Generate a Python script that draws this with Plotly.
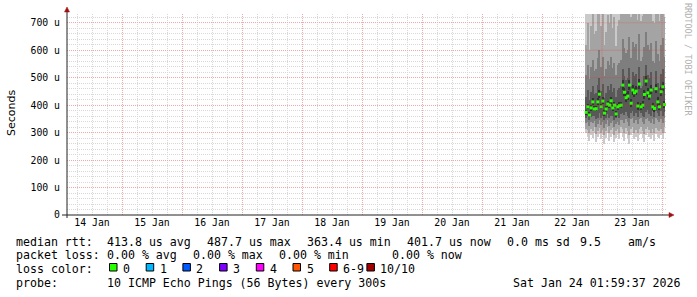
import plotly.graph_objects as go
import pandas as pd

# ---------------- data ----------------
times = pd.date_range("2026-01-22 17:40", periods=48, freq="40min")

median_us = [374, 394, 364, 390, 412, 386, 387, 412, 440, 394, 415, 371, 386, 404, 400, 416,
             390, 400, 368, 394, 398, 400, 473, 447, 427, 433, 473, 407, 455, 445, 451, 397,
             477, 394, 400, 439, 488, 445, 433, 455, 394, 388, 460, 412, 394, 449, 467, 402]

# sorted pings (smoke) per step, in microseconds
ping1 = [300, 285, 270, 290, 280, 300, 265, 285, 295, 275, 290, 260, 280, 300, 270, 285,
         295, 265, 280, 290, 275, 300, 285, 270, 295, 280, 260, 290, 300, 275, 285, 270,
         290, 295, 280, 265, 290, 300, 285, 275, 290, 270, 295, 285, 280, 290, 275, 300]
ping2 = [315, 310, 300, 312, 305, 320, 295, 305, 318, 300, 310, 290, 305, 322, 298, 308,
         318, 292, 305, 315, 300, 320, 312, 300, 318, 305, 290, 315, 322, 300, 310, 298,
         315, 320, 305, 295, 312, 322, 308, 300, 315, 298, 318, 310, 305, 315, 300, 322]
ping3 = [335, 338, 325, 340, 335, 342, 322, 330, 345, 328, 338, 318, 330, 345, 325, 335,
         342, 320, 332, 340, 328, 345, 345, 335, 350, 338, 325, 348, 352, 335, 345, 330,
         350, 352, 338, 330, 348, 355, 342, 335, 350, 332, 352, 345, 338, 350, 335, 352]
ping4 = [352, 360, 345, 358, 360, 360, 350, 355, 370, 355, 362, 345, 355, 368, 352, 360,
         362, 345, 355, 362, 352, 368, 372, 365, 375, 362, 352, 372, 378, 362, 372, 358,
         378, 372, 362, 358, 375, 382, 368, 362, 378, 358, 380, 372, 362, 378, 362, 376]
ping5 = [366, 385, 356, 380, 400, 378, 378, 400, 425, 385, 404, 362, 376, 394, 390, 404,
         380, 390, 358, 384, 388, 390, 455, 432, 412, 418, 455, 394, 438, 430, 436, 384,
         460, 382, 388, 424, 470, 430, 418, 440, 382, 376, 444, 398, 382, 432, 450, 390]
ping6 = [384, 404, 374, 402, 426, 396, 398, 426, 456, 404, 428, 382, 398, 416, 412, 430,
         402, 412, 380, 406, 410, 412, 492, 464, 444, 450, 492, 422, 474, 462, 468, 412,
         496, 408, 414, 456, 508, 462, 450, 472, 408, 402, 478, 428, 408, 466, 486, 416]
ping7 = [430, 455, 420, 448, 470, 440, 445, 472, 500, 452, 478, 425, 445, 468, 455, 478,
         448, 462, 428, 455, 462, 470, 530, 505, 490, 498, 535, 470, 520, 508, 515, 465,
         540, 462, 470, 505, 548, 510, 498, 520, 462, 455, 525, 480, 462, 515, 530, 470]
ping8 = [510, 545, 495, 540, 565, 525, 530, 570, 600, 540, 575, 505, 530, 560, 545, 575,
         535, 555, 510, 545, 555, 565, 640, 610, 590, 600, 650, 570, 630, 612, 622, 565,
         660, 560, 575, 612, 665, 618, 600, 628, 560, 552, 635, 585, 560, 620, 645, 575]
ping9 = [620, 700, 600, 690, 740, 660, 670, 745, 780, 690, 760, 620, 665, 730, 700, 770,
         680, 720, 615, 690, 710, 740, 800, 770, 745, 760, 800, 720, 790, 770, 785, 710,
         800, 705, 725, 770, 800, 780, 760, 790, 705, 700, 795, 735, 705, 780, 800, 720]
ping10 = [760, 820, 745, 800, 850, 790, 790, 840, 880, 800, 860, 750, 790, 830, 810, 870,
          800, 830, 745, 800, 820, 840, 900, 880, 860, 870, 900, 830, 890, 870, 885, 820,
          900, 815, 835, 870, 900, 880, 860, 890, 815, 810, 895, 845, 815, 880, 900, 830]

y_tick_vals = [0, 100, 200, 300, 400, 500, 600, 700]
y_tick_text = ["0", "100 u", "200 u", "300 u", "400 u", "500 u", "600 u", "700 u"]

loss_labels = ["0", "1", "2", "3", "4", "5", "6-9", "10/10"]
loss_colors = ["#26ff00", "#00b8ff", "#0059ff", "#7e00ff", "#ff00ff", "#ff5500", "#ff0000", "#a10000"]

smoke_colors = ["#cacaca", "#a4a4a4", "#7e7e7e", "#585858", "#323232"]

rtt_parts = ["median rtt:", "413.8 us avg", "487.7 us max", "363.4 us min",
             "401.7 us now", "0.0 ms sd", "9.5", "am/s"]
loss_parts = ["packet loss:", "0.00 % avg", "0.00 % max", "0.00 % min", "0.00 % now"]
probe_parts = ["probe:", "10 ICMP Echo Pings (56 Bytes) every 300s"]
loss_title = "loss color:"
stamp = "Sat Jan 24 01:59:37 2026"

# ---------------- geometry ----------------
W, H = 697, 297
L, T, PW, PH = 67, 14, 600, 201


def px(xp):
    return (xp - L) / PW


def py(yp):
    return (T + PH - yp) / PH


MONO = "DejaVu Sans Mono"

fig = go.Figure()

pings = [ping1, ping2, ping3, ping4, ping5, ping6, ping7, ping8, ping9, ping10]
for i in range(5):
    lo = pings[i]
    hi = pings[9 - i]
    fig.add_trace(go.Bar(
        x=times, y=[h - l for h, l in zip(hi, lo)], base=lo,
        width=40 * 60 * 1000,
        marker=dict(color=smoke_colors[i], line=dict(width=0)),
        showlegend=False, hoverinfo="skip"))

fig.add_trace(go.Scatter(
    x=times, y=median_us, mode="markers",
    marker=dict(symbol="square", size=3, color=loss_colors[0], line=dict(width=0)),
    showlegend=False, hoverinfo="skip"))

major_grid = "#f3a8a8"
minor_grid = "#d8d8d8"
dash = "1px,1px"

fig.update_layout(
    width=W, height=H,
    margin=dict(l=L, r=W - L - PW, t=T, b=H - T - PH, pad=0),
    paper_bgcolor="white", plot_bgcolor="white",
    barmode="overlay", bargap=0,
    font=dict(family=MONO, color="black"),
    xaxis=dict(
        type="date",
        range=["2026-01-14 02:00:00", "2026-01-24 02:00:00"],
        dtick=86400000, tick0="2026-01-14",
        tickformat="%d %b", ticklabelmode="period",
        showgrid=True, gridcolor=major_grid, griddash=dash, gridwidth=1,
        minor=dict(dtick=21600000, tick0="2026-01-14", showgrid=True,
                   gridcolor=minor_grid, griddash=dash, gridwidth=1),
        ticks="", showline=False, zeroline=False,
        tickfont=dict(family=MONO, size=9.8, color="black"),
    ),
    yaxis=dict(
        range=[0, 732],
        tickmode="array", tickvals=y_tick_vals, ticktext=y_tick_text,
        showgrid=True, gridcolor=major_grid, griddash=dash, gridwidth=1,
        minor=dict(dtick=20, tick0=0, showgrid=True,
                   gridcolor=minor_grid, griddash=dash, gridwidth=1),
        ticks="", showline=False, zeroline=False,
        ticklabelstandoff=6,
        tickfont=dict(family=MONO, size=9.8, color="black"),
    ),
)

shapes = []
# major grid redrawn translucently, only inside the smoke region
overlay = dict(color="rgba(255,40,40,0.4)", width=1, dash=dash)
for v in y_tick_vals[3:]:
    shapes.append(dict(type="line", xref="x", yref="y",
                       x0="2026-01-22 17:25", x1="2026-01-24 01:15", y0=v, y1=v,
                       line=overlay, layer="above"))
for d in ["2026-01-23", "2026-01-24"]:
    shapes.append(dict(type="line", xref="x", yref="y", x0=d, x1=d, y0=305, y1=732,
                       line=overlay, layer="above"))

axis_col = "#222222"
arrow_col = "#a01010"
# y axis line
shapes.append(dict(type="line", xref="paper", yref="paper",
                   x0=px(67), x1=px(67), y0=py(218), y1=py(10),
                   line=dict(color=axis_col, width=1)))
# x axis line
shapes.append(dict(type="line", xref="paper", yref="paper",
                   x0=px(62), x1=px(670), y0=py(215), y1=py(215),
                   line=dict(color=axis_col, width=1)))
# arrows
shapes.append(dict(type="path", xref="paper", yref="paper",
                   path=f"M {px(64.5)},{py(12)} L {px(69.5)},{py(12)} L {px(67)},{py(7)} Z",
                   fillcolor=arrow_col, line=dict(color=arrow_col, width=0.5)))
shapes.append(dict(type="path", xref="paper", yref="paper",
                   path=f"M {px(669)},{py(212.5)} L {px(669)},{py(217.5)} L {px(674)},{py(215)} Z",
                   fillcolor=arrow_col, line=dict(color=arrow_col, width=0.5)))

# loss colour boxes
box_x = [109, 145.7, 182.4, 219.1, 255.8, 292.5, 329.2, 366.4]
label_x = [123, 159.7, 196.4, 233.1, 269.8, 306.5, 342.8, 380]
for bx, c in zip(box_x, loss_colors):
    shapes.append(dict(type="rect", xref="paper", yref="paper",
                       x0=px(bx + 0.5), x1=px(bx + 8), y0=py(263.5), y1=py(271),
                       fillcolor=c, line=dict(color="black", width=1)))
fig.update_layout(shapes=shapes)

ann = []
FS = 11.6


def text(xp, yp, s, size=FS, color="black", anchor="left", angle=0, family=MONO):
    ann.append(dict(xref="paper", yref="paper", x=px(xp), y=py(yp),
                    text=s.replace(" ", "&nbsp;"),
                    showarrow=False, xanchor=anchor, yanchor="middle",
                    textangle=angle, borderpad=0, borderwidth=0,
                    font=dict(family=family, size=size, color=color)))


rtt_x = [16, 107.3, 206.7, 306.7, 406.7, 506.5, 580, 628.3]
loss_x = [16, 107.3, 193, 279, 391.7]
probe_x = [16, 107.3]
for xx, s in zip(rtt_x, rtt_parts):
    text(xx, 241.5, s)
for xx, s in zip(loss_x, loss_parts):
    text(xx, 255.2, s)
text(16, 269, loss_title)
for lx, lab in zip(label_x, loss_labels):
    text(lx, 269, lab)
for xx, s in zip(probe_x, probe_parts):
    text(xx, 282.8, s)
text(513.3, 282.8, stamp)

# y axis title
ann.append(dict(xref="paper", yref="paper", x=px(11), y=py(113), text="Seconds",
                showarrow=False, xanchor="center", yanchor="middle", textangle=-90,
                font=dict(family="DejaVu Sans", size=11, color="black")))
# watermark
ann.append(dict(xref="paper", yref="paper", x=px(688), y=py(59),
                text="RRDTOOL / TOBI OETIKER".replace(" ", "&nbsp;"),
                showarrow=False, xanchor="center", yanchor="middle", textangle=90,
                font=dict(family=MONO, size=8.5, color="#b0b0b0")))
fig.update_layout(annotations=ann)

fig.write_html("out.html")
